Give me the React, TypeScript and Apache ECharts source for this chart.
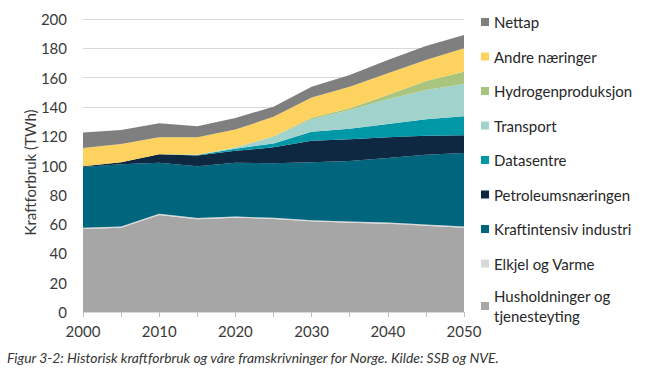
import React, { useEffect, useRef } from "react";
import * as echarts from "echarts";

const years = ["2000", "2005", "2010", "2015", "2020", "2025", "2030", "2035", "2040", "2045", "2050"];
const husholdninger = [56.7, 57.5, 66.2, 63.3, 64.4, 63.5, 61.9, 61.0, 60.3, 58.9, 57.5];
const elkjel = [0.8, 0.8, 0.8, 0.8, 0.8, 0.8, 0.8, 0.8, 0.8, 0.8, 0.8];
const kraftintensiv = [41.5, 42.5, 34.9, 35.4, 36.6, 37.2, 39.5, 41.2, 44.0, 47.7, 50.2];
const petroleum = [0.5, 1.4, 5.7, 7.3, 8.2, 10.9, 14.7, 14.9, 14.1, 12.9, 12.1];
const datasentre = [0, 0, 0, 0.4, 1.5, 2.7, 6.2, 7.2, 9.1, 11.2, 13.0];
const transport = [0, 0, 0, 0.2, 0.8, 4.6, 8.4, 12.8, 16.9, 20.0, 22.0];
const hydrogen = [0, 0, 0, 0, 0, 0.2, 1.1, 1.1, 2.9, 6.2, 8.4];
const andre = [12.4, 12.5, 11.6, 11.9, 12.2, 13.4, 13.9, 14.8, 14.8, 14.3, 16.0];
const nettap = [10.6, 9.5, 9.6, 7.5, 8.0, 6.8, 7.3, 8.0, 9.1, 9.6, 9.0];

const seriesDefs = [
  { name: "Husholdninger og tjenesteyting", values: husholdninger, color: "#a6a6a6" },
  { name: "Elkjel og Varme", values: elkjel, color: "#d9d9d9" },
  { name: "Kraftintensiv industri", values: kraftintensiv, color: "#00667e" },
  { name: "Petroleumsnæringen", values: petroleum, color: "#0e2841" },
  { name: "Datasentre", values: datasentre, color: "#0097a7" },
  { name: "Transport", values: transport, color: "#a2d2cc" },
  { name: "Hydrogenproduksjon", values: hydrogen, color: "#a9c47f" },
  { name: "Andre næringer", values: andre, color: "#fdd25f" },
  { name: "Nettap", values: nettap, color: "#7f7f7f" },
];

const FONT = "Lato";

export default function App() {
  const ref = useRef<HTMLDivElement>(null);
  useEffect(() => {
    if (!ref.current) return;
    const chart = echarts.init(ref.current, null, { renderer: "svg" });
    const legendNames = seriesDefs.map((s) => s.name).reverse();
    chart.setOption({
      animation: false,
      textStyle: { fontFamily: FONT },
      grid: { left: 83, right: 182, top: 19, bottom: 59 },
      xAxis: {
        type: "category",
        data: years,
        boundaryGap: false,
        axisLine: { lineStyle: { color: "#d9d9d9" } },
        axisTick: { show: true, length: 5, interval: 0, lineStyle: { color: "#bfbfbf" } },
        axisLabel: {
          color: "#3a3a3a",
          fontSize: 15,
          fontFamily: FONT,
          margin: 11,
          interval: 1,
        },
        splitLine: { show: false },
      },
      yAxis: {
        type: "value",
        min: 0,
        max: 200,
        interval: 20,
        name: "Kraftforbruk (TWh)",
        nameLocation: "middle",
        nameGap: 46,
        nameMoveOverlap: false,
        nameTextStyle: { color: "#3a3a3a", fontSize: 15, fontFamily: FONT, padding: [0, 14, 0, 0] },
        axisLine: { show: false },
        axisTick: { show: false },
        axisLabel: { color: "#3a3a3a", fontSize: 15, fontFamily: FONT, margin: 16 },
        splitLine: { lineStyle: { color: "#d9d9d9" } },
      },
      legend: [
        {
          orient: "vertical",
          left: 476,
          top: 8,
          itemWidth: 8,
          itemHeight: 8,
          itemGap: 16.5,
          icon: "rect",
          data: legendNames.slice(0, 8),
          textStyle: { color: "#262626", fontSize: 15, fontFamily: FONT, lineHeight: 18 },
        },
        {
          orient: "vertical",
          left: 476,
          top: 271,
          itemWidth: 8,
          itemHeight: 8,
          icon: "rect",
          data: legendNames.slice(8),
          formatter: () => "Husholdninger og\ntjenesteyting",
          textStyle: { color: "#262626", fontSize: 15, fontFamily: FONT, lineHeight: 20, padding: [20, 0, 0, 0] },
        },
      ],
      graphic: [
        {
          type: "text",
          left: 7,
          top: 350,
          style: {
            text: "Figur 3-2: Historisk kraftforbruk og våre framskrivninger for Norge. Kilde: SSB og NVE.",
            fontFamily: FONT,
            fontStyle: "italic",
            fontSize: 13.9,
            fill: "#333333",
          },
        },
      ],
      series: seriesDefs.map((s) => ({
        name: s.name,
        type: "line",
        stack: "total",
        symbol: "none",
        lineStyle: { width: 0 },
        areaStyle: { color: s.color, opacity: 1 },
        itemStyle: { color: s.color },
        data: s.values,
      })),
    });
    return () => chart.dispose();
  }, []);
  return <div ref={ref} style={{ width: 646, height: 371, position: "absolute", left: 0, top: 0 }} />;
}
